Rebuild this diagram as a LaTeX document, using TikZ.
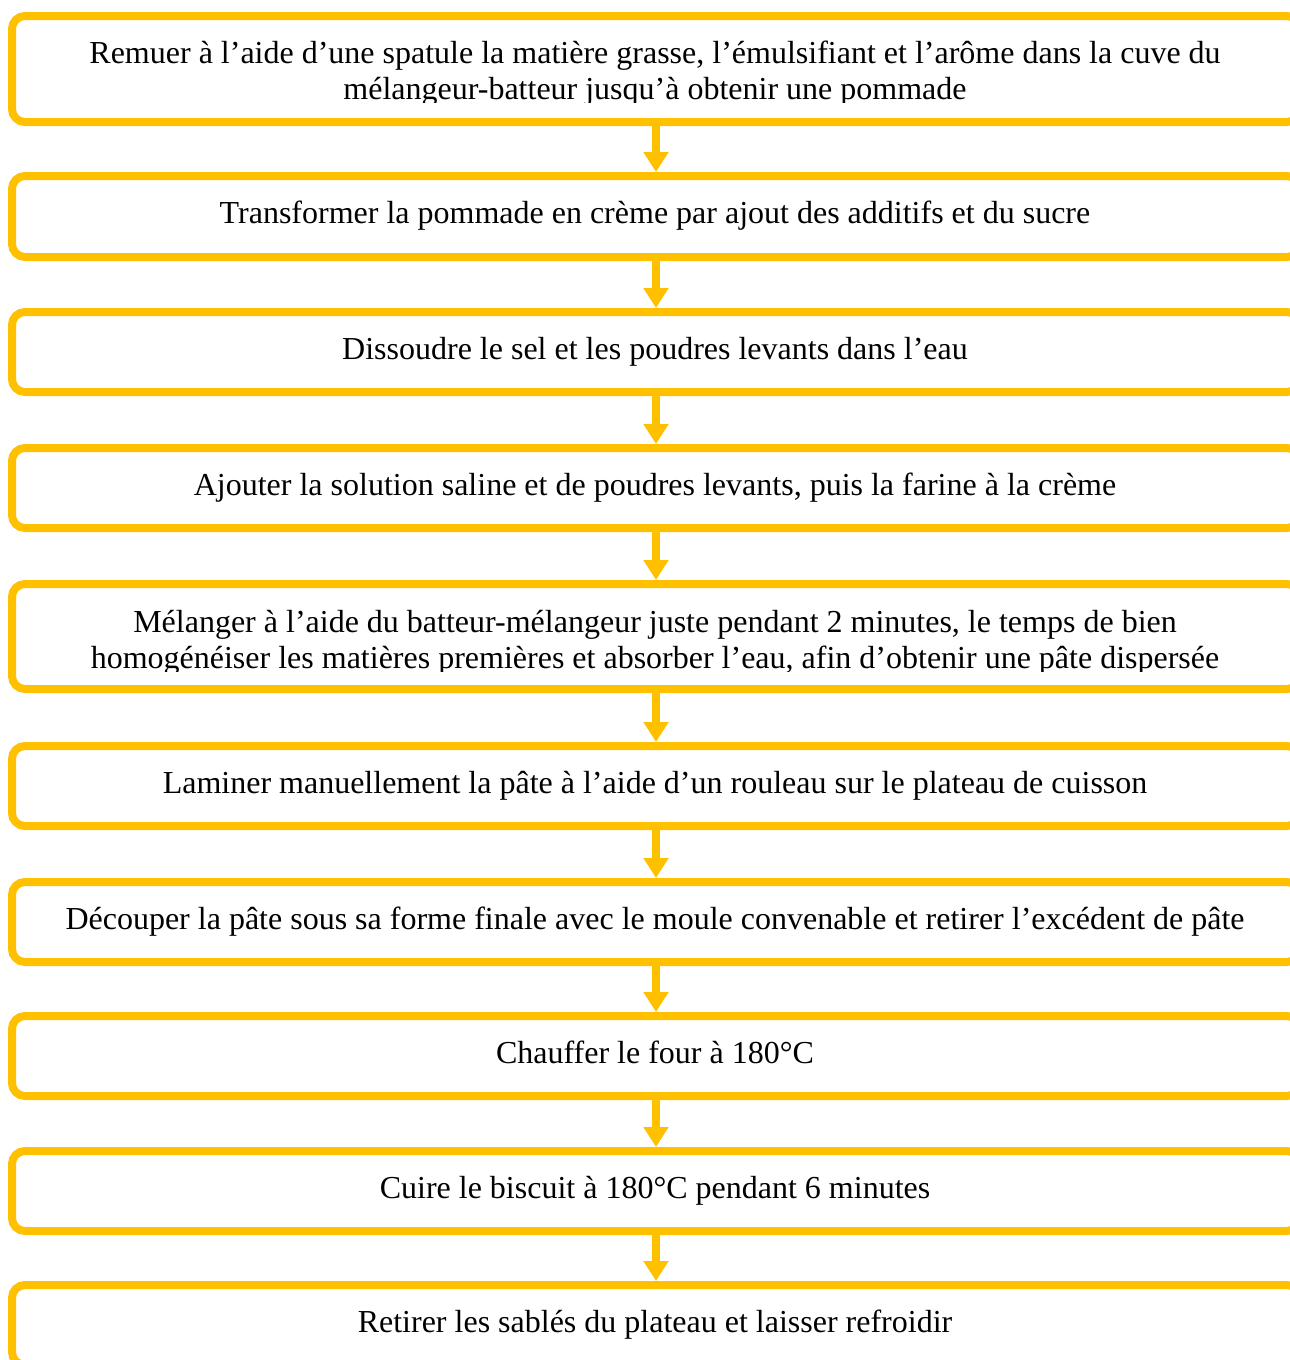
\documentclass[tikz,border=0pt]{standalone}
\usepackage{fontspec}
\setmainfont{Liberation Serif}
\usetikzlibrary{arrows.meta}
\definecolor{gold}{HTML}{FFC000}
\begin{document}
\begin{tikzpicture}[x=1pt,y=-1pt,
  box/.style={draw=gold, line width=8pt, rounded corners=13pt, minimum width=1288pt, inner sep=0pt},
  txt/.style={inner sep=0pt, anchor=base, font=\fontsize{32}{37}\selectfont, text=black},
  arr/.style={draw=gold, line width=8pt, -{Triangle[length=20pt,width=24pt]}}]
\useasboundingbox (0,0) rectangle (1290,1360);
\clip (0,0) rectangle (1290,1360);
\fill[white] (0,0) rectangle (1290,1360);
\coordinate (ax) at (656,0);
% boxes
\node[box, minimum height=106pt] (b1) at (656,69) {};
\node[box, minimum height=81pt] (b2) at (656,216.5) {};
\node[box, minimum height=80pt] (b3) at (656,352) {};
\node[box, minimum height=80pt] (b4) at (656,488) {};
\node[box, minimum height=105pt] (b5) at (656,636.5) {};
\node[box, minimum height=80pt] (b6) at (656,786) {};
\node[box, minimum height=80pt] (b7) at (656,922) {};
\node[box, minimum height=80pt] (b8) at (656,1056) {};
\node[box, minimum height=80pt] (b9) at (656,1191) {};
\node[box, minimum height=80pt] (b10) at (656,1325) {};
% texts
\begin{scope}
\clip (20,20) rectangle (1290,102);
\node[txt] (t1) at (655,63) {Remuer à l’aide d’une spatule la matière grasse, l’émulsifiant et l’arôme dans la cuve du};
\node[txt] (t1b) at (655,99) {mélangeur-batteur jusqu’à obtenir une pommade};
\end{scope}
\node[txt] (t2) at (655,223) {Transformer la pommade en crème par ajout des additifs et du sucre};
\node[txt] (t3) at (655,359) {Dissoudre le sel et les poudres levants dans l’eau};
\node[txt] (t4) at (655,495) {Ajouter la solution saline et de poudres levants, puis la farine à la crème};
\begin{scope}
\clip (20,588) rectangle (1290,671);
\node[txt] (t5) at (655,632) {Mélanger à l’aide du batteur-mélangeur juste pendant 2 minutes, le temps de bien};
\node[txt] (t5b) at (655,668) {homogénéiser les matières premières et absorber l’eau, afin d’obtenir une pâte dispersée};
\end{scope}
\node[txt] (t6) at (655,793) {Laminer manuellement la pâte à l’aide d’un rouleau sur le plateau de cuisson};
\node[txt] (t7) at (655,929) {Découper la pâte sous sa forme finale avec le moule convenable et retirer l’excédent de pâte};
\node[txt] (t8) at (655,1063) {Chauffer le four à 180°C};
\node[txt] (t9) at (655,1198) {Cuire le biscuit à 180°C pendant 6 minutes};
\node[txt] (t10) at (655,1332) {Retirer les sablés du plateau et laisser refroidir};
% arrows
\foreach \a/\b in {b1/b2,b2/b3,b3/b4,b4/b5,b5/b6,b6/b7,b7/b8,b8/b9,b9/b10}
  \draw[arr] (\a.south -| ax) -- (\b.north -| ax);
\end{tikzpicture}
\end{document}
